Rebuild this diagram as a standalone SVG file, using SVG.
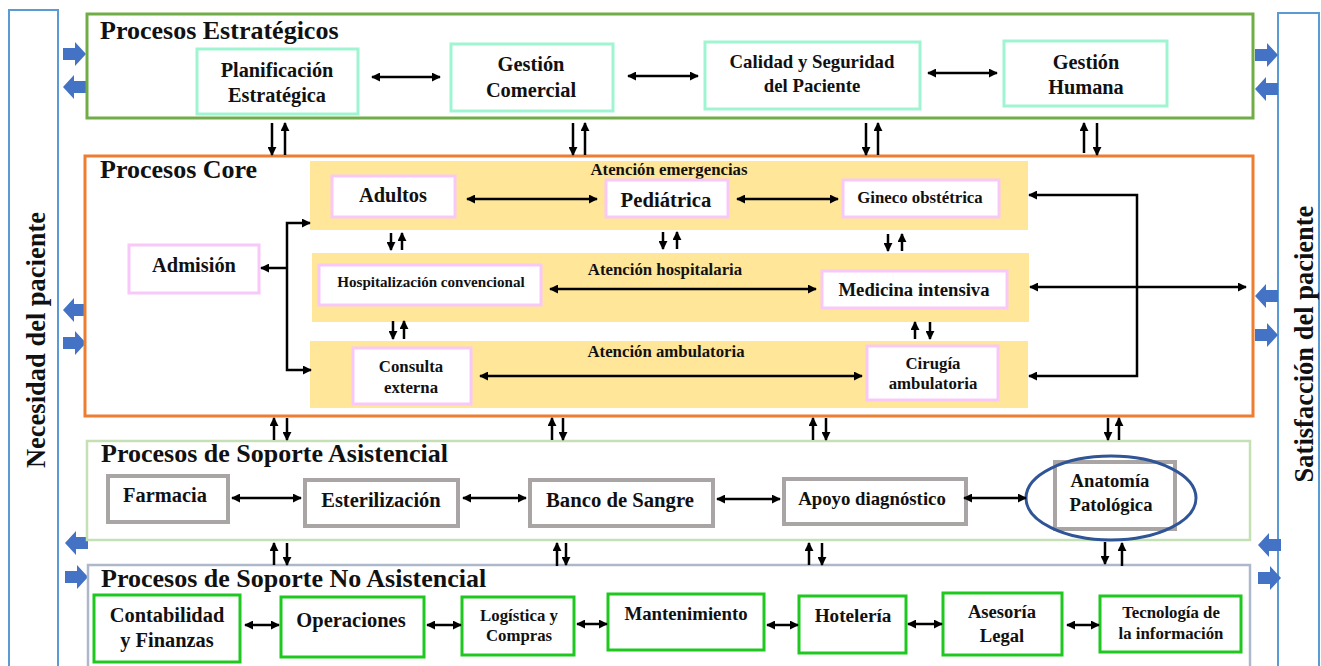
<svg xmlns="http://www.w3.org/2000/svg" width="1321" height="666" viewBox="0 0 1321 666">
  <style>
    text { font-family: "Liberation Serif", "Times New Roman", serif; font-weight: bold; fill: #111; text-anchor: middle; }
    .title { font-size: 26px; text-anchor: start; }
    .side { font-size: 26.5px; }
    .band { fill: #ffe699; }
    .aqua { fill: #fff; stroke: #9ff5d2; stroke-width: 3; }
    .pink { fill: #fff; stroke: #f8c8f8; stroke-width: 3; }
    .gray { fill: #fff; stroke: #a9a5a5; stroke-width: 4; }
    .green { fill: #fff; stroke: #1fc81f; stroke-width: 3; }
    .conn line, .conn polyline { stroke: #000; stroke-width: 2.5; fill: none; }
    .dbl { marker-start: url(#ah); marker-end: url(#ah); }
    .one { marker-end: url(#ah); }
    .blk { fill: #4472c4; }
  </style>
  <defs>
    <marker id="ah" viewBox="0 0 10 10" refX="9" refY="5" markerUnits="userSpaceOnUse" markerWidth="9" markerHeight="9" orient="auto-start-reverse">
      <path d="M0,0 L10,5 L0,10 z" fill="#000"/>
    </marker>
    <path id="bright" d="M0,-6 H12 V-12 L23,0 L12,12 V6 H0 z"/>
  </defs>

  <rect width="1321" height="666" fill="#fff"/>

  <!-- side columns -->
  <g id="necesidad">
    <rect x="9" y="10" width="49" height="670" fill="#fff" stroke="#5b9bd5" stroke-width="2"/>
    <text class="side" transform="translate(45,340) rotate(-90)">Necesidad del paciente</text>
  </g>
  <g id="satisfaccion">
    <rect x="1278" y="13" width="41" height="670" fill="#fff" stroke="#5b9bd5" stroke-width="2"/>
    <text class="side" transform="translate(1313,344) rotate(-90)">Satisfacción del paciente</text>
  </g>

  <!-- block arrows between columns and process groups -->
  <g id="flechas-laterales" class="blk">
    <use href="#bright" transform="translate(63,54)"/>
    <use href="#bright" transform="translate(86,87) scale(-1,1)"/>
    <use href="#bright" transform="translate(1255,55)"/>
    <use href="#bright" transform="translate(1278,89) scale(-1,1)"/>
    <use href="#bright" transform="translate(86,310) scale(-1,1)"/>
    <use href="#bright" transform="translate(63,343)"/>
    <use href="#bright" transform="translate(1278,296) scale(-1,1)"/>
    <use href="#bright" transform="translate(1255,335)"/>
    <use href="#bright" transform="translate(88,543) scale(-1,1)"/>
    <use href="#bright" transform="translate(65,577)"/>
    <use href="#bright" transform="translate(1281,545) scale(-1,1)"/>
    <use href="#bright" transform="translate(1258,578)"/>
  </g>

  <!-- Procesos Estratégicos -->
  <g id="estrategicos">
    <rect x="87" y="14" width="1166" height="104" fill="#fff" stroke="#70ad47" stroke-width="3"/>
    <text class="title" x="100" y="39">Procesos Estratégicos</text>
  </g>
  <g id="planificacion">
    <rect class="aqua" x="197" y="49" width="161" height="65"/>
    <text x="277" y="77" font-size="20.3">Planificación</text>
    <text x="277" y="102" font-size="20.3">Estratégica</text>
  </g>
  <g id="gestion-comercial">
    <rect class="aqua" x="451" y="44" width="162" height="67"/>
    <text x="531" y="71" font-size="20.4">Gestión</text>
    <text x="531" y="97" font-size="20.4">Comercial</text>
  </g>
  <g id="calidad">
    <rect class="aqua" x="705" y="42" width="215" height="67"/>
    <text x="812" y="68" font-size="18.8">Calidad y Seguridad</text>
    <text x="812" y="92" font-size="18.8">del Paciente</text>
  </g>
  <g id="gestion-humana">
    <rect class="aqua" x="1004" y="41" width="163" height="65"/>
    <text x="1086" y="69" font-size="20.3">Gestión</text>
    <text x="1086" y="94" font-size="20.3">Humana</text>
  </g>

  <!-- Procesos Core -->
  <g id="core">
    <rect x="85" y="156" width="1168" height="260" fill="#fff" stroke="#ed7d31" stroke-width="3"/>
    <text class="title" x="100" y="178">Procesos Core</text>
  </g>
  <g id="atencion-emergencias">
    <rect class="band" x="310" y="161" width="718" height="69"/>
    <text x="669" y="175" font-size="16.8">Atención emergencias</text>
  </g>
  <g id="atencion-hospitalaria">
    <rect class="band" x="312" y="253" width="717" height="69"/>
    <text x="665" y="275" font-size="16.8">Atención hospitalaria</text>
  </g>
  <g id="atencion-ambulatoria">
    <rect class="band" x="310" y="341" width="718" height="67"/>
    <text x="666" y="357" font-size="16.8">Atención ambulatoria</text>
  </g>
  <g id="admision">
    <rect class="pink" x="129" y="245" width="130" height="48"/>
    <text x="194" y="272" font-size="20.4">Admisión</text>
  </g>
  <g id="adultos">
    <rect class="pink" x="332" y="176" width="123" height="41"/>
    <text x="393" y="202" font-size="20.4">Adultos</text>
  </g>
  <g id="pediatrica">
    <rect class="pink" x="606" y="180" width="122" height="37"/>
    <text x="666" y="207" font-size="20.7">Pediátrica</text>
  </g>
  <g id="gineco">
    <rect class="pink" x="843" y="180" width="156" height="37"/>
    <text x="920" y="203" font-size="16.8">Gineco obstétrica</text>
  </g>
  <g id="hospitalizacion">
    <rect class="pink" x="319" y="265" width="222" height="40"/>
    <text x="431" y="287" font-size="15.1">Hospitalización convencional</text>
  </g>
  <g id="medicina-intensiva">
    <rect class="pink" x="822" y="271" width="185" height="37"/>
    <text x="914" y="296" font-size="18.7">Medicina intensiva</text>
  </g>
  <g id="consulta-externa">
    <rect class="pink" x="353" y="348" width="118" height="56"/>
    <text x="411" y="372" font-size="16.8">Consulta</text>
    <text x="411" y="393" font-size="16.8">externa</text>
  </g>
  <g id="cirugia-ambulatoria">
    <rect class="pink" x="867" y="346" width="131" height="54"/>
    <text x="933" y="369" font-size="16.8">Cirugía</text>
    <text x="933" y="389" font-size="16.8">ambulatoria</text>
  </g>

  <!-- Procesos de Soporte Asistencial -->
  <g id="soporte-asistencial">
    <rect x="87" y="441" width="1163" height="99" fill="#fff" stroke="#c5e0b4" stroke-width="2.5"/>
    <text class="title" x="101" y="462">Procesos de Soporte Asistencial</text>
  </g>
  <g id="farmacia">
    <rect class="gray" x="108" y="476" width="120" height="46"/>
    <text x="165" y="502" font-size="20.4">Farmacia</text>
  </g>
  <g id="esterilizacion">
    <rect class="gray" x="305" y="480" width="153" height="46"/>
    <text x="381" y="507" font-size="20.5">Esterilización</text>
  </g>
  <g id="banco-sangre">
    <rect class="gray" x="530" y="480" width="183" height="46"/>
    <text x="620" y="507" font-size="20.7">Banco de Sangre</text>
  </g>
  <g id="apoyo-diagnostico">
    <rect class="gray" x="784" y="479" width="182" height="45"/>
    <text x="872" y="505" font-size="18.8">Apoyo diagnóstico</text>
  </g>
  <g id="anatomia-patologica">
    <rect class="gray" x="1055" y="462" width="120" height="67"/>
    <text x="1110" y="487" font-size="18.7">Anatomía</text>
    <text x="1111" y="511" font-size="18.7">Patológica</text>
    <ellipse cx="1111" cy="498" rx="85" ry="42" fill="none" stroke="#2f5597" stroke-width="3"/>
  </g>

  <!-- Procesos de Soporte No Asistencial -->
  <g id="soporte-no-asistencial">
    <rect x="88" y="565" width="1162" height="120" fill="#fff" stroke="#adb9ca" stroke-width="2.5"/>
    <text class="title" x="101" y="587">Procesos de Soporte No Asistencial</text>
  </g>
  <g id="contabilidad">
    <rect class="green" x="94" y="595" width="146" height="67"/>
    <text x="167" y="622" font-size="20.4">Contabilidad</text>
    <text x="167" y="647" font-size="20.4">y Finanzas</text>
  </g>
  <g id="operaciones">
    <rect class="green" x="281" y="597" width="143" height="60"/>
    <text x="351" y="627" font-size="20.5">Operaciones</text>
  </g>
  <g id="logistica">
    <rect class="green" x="462" y="597" width="112" height="58"/>
    <text x="519" y="621" font-size="16.8">Logística y</text>
    <text x="519" y="641" font-size="16.8">Compras</text>
  </g>
  <g id="mantenimiento">
    <rect class="green" x="608" y="594" width="156" height="56"/>
    <text x="686" y="620" font-size="18.8">Mantenimiento</text>
  </g>
  <g id="hoteleria">
    <rect class="green" x="799" y="596" width="107" height="57"/>
    <text x="853" y="622" font-size="19.2">Hotelería</text>
  </g>
  <g id="asesoria-legal">
    <rect class="green" x="943" y="593" width="119" height="62"/>
    <text x="1002" y="618" font-size="18.6">Asesoría</text>
    <text x="1002" y="642" font-size="18.6">Legal</text>
  </g>
  <g id="tecnologia">
    <rect class="green" x="1100" y="596" width="141" height="56"/>
    <text x="1171" y="618" font-size="16.8">Tecnología de</text>
    <text x="1171" y="639" font-size="16.8">la información</text>
  </g>

  <!-- connectors -->
  <g id="conectores" class="conn">
    <!-- strategic row -->
    <line class="dbl" x1="372" y1="77" x2="440" y2="77"/>
    <line class="dbl" x1="628" y1="76" x2="698" y2="76"/>
    <line class="dbl" x1="928" y1="73" x2="997" y2="73"/>

    <!-- strategic to core -->
    <line class="one" x1="272" y1="123" x2="272" y2="155"/>
    <line class="one" x1="285" y1="155" x2="285" y2="123"/>
    <line class="one" x1="573" y1="123" x2="573" y2="155"/>
    <line class="one" x1="585" y1="155" x2="585" y2="123"/>
    <line class="one" x1="866" y1="123" x2="866" y2="155"/>
    <line class="one" x1="878" y1="155" x2="878" y2="123"/>
    <line class="one" x1="1084" y1="153" x2="1084" y2="123"/>
    <line class="one" x1="1097" y1="123" x2="1097" y2="155"/>

    <!-- admission distribution -->
    <polyline class="one" points="287,268 261,268"/>
    <polyline class="one" points="287,268 287,223 310,223"/>
    <polyline class="one" points="287,268 287,370 311,370"/>

    <!-- inside bands -->
    <line class="dbl" x1="467" y1="199" x2="597" y2="199"/>
    <line class="dbl" x1="737" y1="199" x2="838" y2="199"/>
    <line class="dbl" x1="550" y1="289" x2="816" y2="289"/>
    <line class="dbl" x1="480" y1="376" x2="862" y2="376"/>

    <!-- between bands -->
    <line class="one" x1="391" y1="233" x2="391" y2="250"/>
    <line class="one" x1="402" y1="250" x2="402" y2="233"/>
    <line class="one" x1="663" y1="232" x2="663" y2="249"/>
    <line class="one" x1="677" y1="249" x2="677" y2="232"/>
    <line class="one" x1="888" y1="234" x2="888" y2="251"/>
    <line class="one" x1="902" y1="251" x2="902" y2="234"/>
    <line class="one" x1="393" y1="321" x2="393" y2="339"/>
    <line class="one" x1="404" y1="339" x2="404" y2="321"/>
    <line class="one" x1="915" y1="339" x2="915" y2="322"/>
    <line class="one" x1="930" y1="322" x2="930" y2="339"/>

    <!-- right-side return bus -->
    <polyline class="one" points="1137,287 1137,195 1029,195"/>
    <polyline class="one" points="1137,287 1137,376 1029,376"/>
    <line class="dbl" x1="1030" y1="287" x2="1246" y2="287"/>

    <!-- core to support -->
    <line class="one" x1="274" y1="440" x2="274" y2="418"/>
    <line class="one" x1="287" y1="418" x2="287" y2="440"/>
    <line class="one" x1="552" y1="440" x2="552" y2="418"/>
    <line class="one" x1="563" y1="418" x2="563" y2="440"/>
    <line class="one" x1="813" y1="440" x2="813" y2="418"/>
    <line class="one" x1="826" y1="418" x2="826" y2="440"/>
    <line class="one" x1="1108" y1="418" x2="1108" y2="440"/>
    <line class="one" x1="1119" y1="440" x2="1119" y2="418"/>

    <!-- support row -->
    <line class="dbl" x1="232" y1="498" x2="301" y2="498"/>
    <line class="dbl" x1="463" y1="498" x2="526" y2="498"/>
    <line class="dbl" x1="717" y1="499" x2="780" y2="499"/>
    <line class="dbl" x1="964" y1="498" x2="1026" y2="498"/>

    <!-- support to non-clinical support -->
    <line class="one" x1="274" y1="565" x2="274" y2="543"/>
    <line class="one" x1="287" y1="543" x2="287" y2="565"/>
    <line class="one" x1="557" y1="566" x2="557" y2="543"/>
    <line class="one" x1="566" y1="543" x2="566" y2="565"/>
    <line class="one" x1="809" y1="565" x2="809" y2="543"/>
    <line class="one" x1="822" y1="543" x2="822" y2="565"/>
    <line class="one" x1="1105" y1="542" x2="1105" y2="564"/>
    <line class="one" x1="1122" y1="566" x2="1122" y2="543"/>

    <!-- non-clinical support row -->
    <line class="dbl" x1="245" y1="625" x2="279" y2="625"/>
    <line class="dbl" x1="427" y1="625" x2="461" y2="625"/>
    <line class="dbl" x1="577" y1="624" x2="607" y2="624"/>
    <line class="dbl" x1="767" y1="625" x2="798" y2="625"/>
    <line class="dbl" x1="908" y1="624" x2="942" y2="624"/>
    <line class="dbl" x1="1067" y1="625" x2="1099" y2="625"/>
  </g>
</svg>
